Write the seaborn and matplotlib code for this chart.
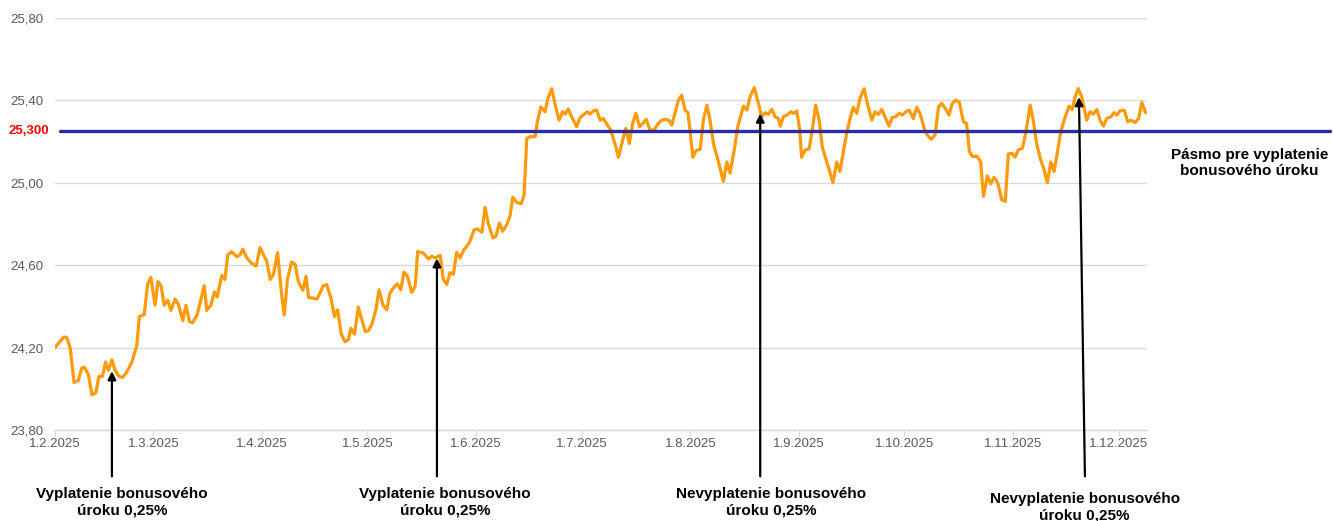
import matplotlib
matplotlib.use("Agg")
import matplotlib.pyplot as plt
import matplotlib.dates as mdates
import matplotlib.transforms as mtransforms
from matplotlib.ticker import FuncFormatter
import pandas as pd
import seaborn as sns

START = pd.Timestamp("2025-02-01")

# days after 1.2.2025 and the rate
day_offset = [
    0.0, 2.4, 3.3, 4.3, 5.4, 6.6, 7.6, 8.3, 9.5, 10.5, 11.6, 12.5, 13.5, 14.4, 15.2, 16.2,
    17.1, 18.2, 19.2, 20.4, 21.9, 23.3, 24.0, 25.4, 26.4, 27.3,
    28.5, 29.3, 30.2, 31.1, 32.1, 33.0, 34.2, 35.1, 36.4, 37.3, 38.3, 39.2, 40.5, 41.5,
    42.5, 43.2, 44.4, 45.4, 46.2, 47.5, 48.4, 49.2, 50.3, 51.8, 52.7,
    53.5, 54.6, 55.8, 57.3, 58.4, 59.3, 60.3, 61.3, 62.2, 63.4, 64.6, 65.3, 66.2, 67.4,
    68.4, 69.3, 70.6, 71.5, 72.2, 73.4, 74.6, 75.7, 76.4, 77.4, 78.6, 79.6, 80.5, 81.5,
    82.6, 83.6, 84.3, 85.3, 86.4, 87.4, 88.4, 89.3, 90.2, 91.4, 92.3, 93.4, 94.5, 95.4,
    96.4, 97.5, 98.5, 99.4, 100.4, 101.6, 102.6, 103.3, 104.9, 106.4, 107.3, 108.3, 109.7,
    110.6, 111.6, 112.5, 113.5, 114.4, 115.4, 116.5, 117.5, 118.2, 119.4, 120.3, 121.6,
    122.5, 123.4, 124.7, 125.6, 126.6, 127.5, 128.7, 129.6, 130.4, 131.5, 132.8, 133.6,
    134.4, 135.5, 136.8, 137.4, 138.4, 139.6, 140.4, 141.5, 142.5, 143.6, 144.6, 145.3,
    146.2, 147.4, 148.6, 149.6, 150.5, 151.7, 152.4, 153.4, 154.3, 155.3,
    156.2, 157.4, 158.3, 159.5, 160.5, 161.6, 162.6, 163.6, 164.6, 165.5, 166.5, 167.4,
    168.4, 169.5, 170.6, 171.9, 172.8, 174.1, 175.0, 175.7, 176.6, 177.6, 178.5, 179.5,
    180.3, 180.9, 181.7, 182.6, 183.8, 184.7, 185.7, 186.6, 187.6, 189.0, 190.4, 191.4,
    192.3, 193.5, 194.5, 196.1, 197.1, 198.0, 199.2, 200.4, 201.3, 202.3, 203.2, 204.2,
    205.1, 206.1, 206.6, 207.5, 208.6, 209.6, 210.5, 211.3, 212.1, 212.7, 213.7, 214.8,
    215.8, 216.7, 217.7, 218.6, 219.7, 220.6, 221.6, 222.7, 223.6, 224.6, 225.6, 226.5,
    227.4, 228.4, 229.3, 230.5, 231.4, 232.7, 233.6, 234.6, 235.5, 236.5, 237.6, 238.5,
    239.5, 240.5, 241.4, 242.4, 243.3, 244.5, 245.5, 246.4, 247.6, 248.5, 249.6, 250.7,
    251.7, 252.6, 253.6, 254.7, 255.6, 256.6, 257.6, 258.8, 259.7, 260.5, 261.4, 262.6,
    263.7, 264.5, 265.6, 266.6, 267.5, 268.6, 269.7, 270.7, 271.6, 272.6, 273.5, 274.4,
    275.6, 276.6, 277.8, 278.7, 279.7, 280.8, 281.8, 282.7, 283.7, 284.6, 285.6, 286.5,
    287.8, 288.9, 289.8, 290.6, 291.5, 292.5, 293.2, 293.9, 294.9, 295.8, 296.8, 297.7,
    298.7, 299.6, 300.8, 301.7, 302.5, 303.4, 304.6, 305.6, 306.5, 307.7, 308.7, 309.6,
    310.7,
]
rate = [
    24.20, 24.25, 24.25, 24.20, 24.03, 24.04, 24.10, 24.105, 24.07, 23.97, 23.98, 24.06, 24.06, 24.13, 24.09, 24.14,
    24.09, 24.06, 24.055, 24.08, 24.13, 24.21, 24.35, 24.36, 24.51, 24.54,
    24.405, 24.52, 24.50, 24.405, 24.43, 24.38, 24.435, 24.41, 24.33, 24.405, 24.325, 24.32, 24.36, 24.43,
    24.50, 24.38, 24.405, 24.47, 24.445, 24.55, 24.53, 24.65, 24.665, 24.64, 24.65,
    24.677, 24.636, 24.611, 24.595, 24.685, 24.652, 24.62, 24.53, 24.554, 24.66, 24.448, 24.358, 24.53, 24.615,
    24.603, 24.52, 24.478, 24.546, 24.443, 24.44, 24.435, 24.473, 24.50, 24.505, 24.44, 24.35, 24.383, 24.268,
    24.228, 24.239, 24.293, 24.265, 24.396, 24.334, 24.277, 24.282, 24.31, 24.383, 24.48, 24.407, 24.383, 24.464,
    24.489, 24.509, 24.48, 24.566, 24.546, 24.468, 24.497, 24.665, 24.659, 24.63, 24.643, 24.635, 24.648,
    24.53, 24.506, 24.563, 24.555, 24.662, 24.635, 24.675, 24.695, 24.716, 24.772, 24.775, 24.759,
    24.88, 24.804, 24.732, 24.74, 24.804, 24.764, 24.796, 24.837, 24.93, 24.904, 24.898, 24.936,
    25.215, 25.223, 25.223, 25.295, 25.368, 25.344, 25.408, 25.456, 25.376, 25.303, 25.344, 25.332,
    25.357, 25.311, 25.271, 25.316, 25.328, 25.344, 25.332, 25.348, 25.352, 25.303,
    25.311, 25.279, 25.255, 25.19, 25.123, 25.199, 25.263, 25.19, 25.291, 25.336, 25.271, 25.287,
    25.307, 25.255, 25.255, 25.287, 25.303, 25.307, 25.30, 25.279, 25.336, 25.40, 25.424, 25.352,
    25.339, 25.255, 25.123, 25.155, 25.162, 25.303, 25.376, 25.303, 25.187, 25.10, 25.006, 25.10,
    25.046, 25.158, 25.271, 25.371, 25.352, 25.416, 25.461, 25.384, 25.32, 25.339, 25.332, 25.355,
    25.32, 25.311, 25.274, 25.32, 25.328, 25.344, 25.336, 25.348, 25.263, 25.123, 25.158, 25.163,
    25.263, 25.376, 25.303, 25.171, 25.11, 25.059, 25.00, 25.10, 25.054, 25.15, 25.247, 25.311,
    25.365, 25.336, 25.408, 25.456, 25.384, 25.303, 25.344, 25.331, 25.355, 25.316, 25.274, 25.316,
    25.32, 25.336, 25.328, 25.344, 25.352, 25.311, 25.365, 25.336, 25.263, 25.231, 25.21, 25.231,
    25.368, 25.384, 25.36, 25.328, 25.384, 25.40, 25.392, 25.295, 25.287, 25.15, 25.126, 25.129,
    25.102, 24.933, 25.033, 24.994, 25.026, 24.998, 24.917, 24.909, 25.139, 25.142, 25.123, 25.158,
    25.167, 25.247, 25.376, 25.303, 25.183, 25.11, 25.062, 25.00, 25.10, 25.054, 25.15, 25.247,
    25.32, 25.371, 25.355, 25.416, 25.456, 25.416, 25.36, 25.303, 25.344, 25.332, 25.355, 25.303,
    25.274, 25.311, 25.32, 25.339, 25.328, 25.348, 25.352, 25.295, 25.303, 25.291, 25.311, 25.389,
    25.339,
]

y_ticks = [23.8, 24.2, 24.6, 25.0, 25.4, 25.8]
month_ticks = pd.date_range("2025-02-01", "2025-12-01", freq="MS")
x_end_days = 311.1

band_level = 25.25          # where the band line sits in the picture
band_label = "25,300"
band_text = "Pásmo pre vyplatenie\nbonusového úroku"

note_tip_day = [16.2, 108.8, 200.9, 291.7]
note_tip_rate = [24.085, 24.633, 25.335, 25.415]
note_tail_day = [16.2, 108.8, 200.9, 293.4]
note_tail_rate = 23.575
note_label_day = [19.1, 111.1, 204.0, 293.3]
note_label_rate = [23.449, 23.449, 23.449, 23.425]
note_label = [
    "Vyplatenie bonusového\núroku 0,25%",
    "Vyplatenie bonusového\núroku 0,25%",
    "Nevyplatenie bonusového\núroku 0,25%",
    "Nevyplatenie bonusového\núroku 0,25%",
]

ORANGE = "#FF9A0A"
BLUE = "#2B2BA3"
GRID = "#D9D9D9"
TICK_TXT = "#595959"

sns.set_theme(style="white")
plt.rcParams["font.family"] = ["Liberation Sans", "DejaVu Sans"]


def to_date(d):
    return START + pd.Timedelta(days=d)


df = pd.DataFrame({"date": [to_date(d) for d in day_offset], "rate": rate})

fig = plt.figure(figsize=(13.33, 5.21), dpi=100)
ax = fig.add_axes([0.0413, 0.1747, 0.8192, 0.7913])

sns.lineplot(data=df, x="date", y="rate", color=ORANGE, linewidth=2.3, ax=ax, legend=False, zorder=2)

ax.set_xlim(START, to_date(x_end_days))
ax.set_ylim(23.8, 25.8)
ax.set_xlabel("")
ax.set_ylabel("")

ax.set_yticks(y_ticks)
ax.yaxis.set_major_formatter(FuncFormatter(lambda v, _: f"{v:.2f}".replace(".", ",")))
ax.yaxis.grid(True, color=GRID, linewidth=1)
ax.xaxis.grid(False)
ax.set_xticks(month_ticks)
ax.xaxis.set_major_formatter(FuncFormatter(
    lambda v, _: (lambda d: f"{d.day}.{d.month}.{d.year}")(mdates.num2date(v))))
ax.tick_params(axis="y", length=0, pad=8.5, labelsize=9.5, labelcolor=TICK_TXT)
ax.tick_params(axis="x", length=4, width=1, color=GRID, pad=1.5, labelsize=9.5, labelcolor=TICK_TXT,
               bottom=True)
for side in ["top", "right", "left"]:
    ax.spines[side].set_visible(False)
ax.spines["bottom"].set_color(GRID)
ax.spines["bottom"].set_linewidth(1)

# band line running past the plot to the right
ax.axhline(band_level, xmin=0.0046, xmax=1.1676, color=BLUE, linewidth=2.4, clip_on=False, zorder=3)
blend = mtransforms.blended_transform_factory(ax.transAxes, ax.transData)
ax.text(-0.0055, band_level, band_label, transform=blend, ha="right", va="center",
        color="red", fontweight="bold", fontsize=9.5)
ax.text(1.0939, 25.095, band_text, transform=blend, ha="center", va="center",
        fontweight="bold", fontsize=11, linespacing=1.25, color="black")

for tip_d, tip_r, tail_d, lab_d, lab_r, lab in zip(note_tip_day, note_tip_rate, note_tail_day,
                                                  note_label_day, note_label_rate, note_label):
    ax.annotate("", xy=(mdates.date2num(to_date(tip_d)), tip_r),
                xytext=(mdates.date2num(to_date(tail_d)), note_tail_rate),
                arrowprops=dict(arrowstyle="-|>", color="black", lw=1.6, mutation_scale=12,
                                shrinkA=0, shrinkB=0),
                annotation_clip=False, zorder=4)
    ax.text(mdates.date2num(to_date(lab_d)), lab_r, lab, ha="center", va="center",
            fontsize=11, fontweight="bold", linespacing=1.3, color="black", clip_on=False)

fig.savefig("out.png", dpi=100)
plt.close(fig)
